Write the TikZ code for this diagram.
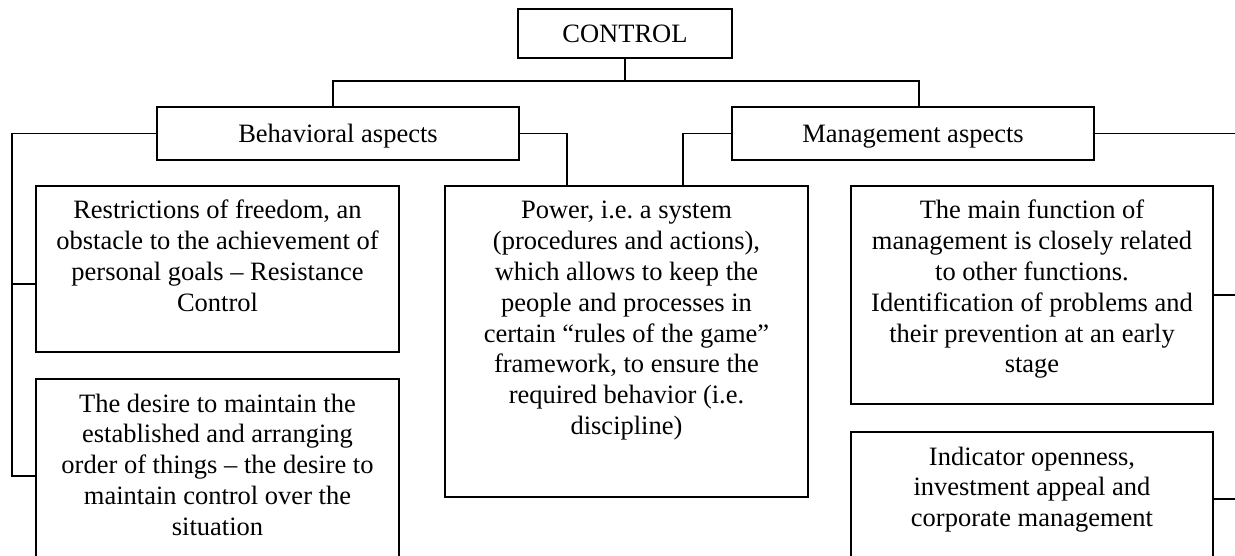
\documentclass[tikz,border=0pt]{standalone}
\usepackage{fontspec}
\setmainfont{Liberation Serif}
\usetikzlibrary{calc}
\frenchspacing
\newcommand{\boxtxt}[3]{\parbox[t][#2][t]{#1}{\fontsize{26.5pt}{30.8pt}\selectfont\frenchspacing\centering\rule{0pt}{33pt}#3}}
\begin{document}
\begin{tikzpicture}[x=1pt,y=-1pt,line width=1.3pt,
  bx/.style={draw,inner sep=0pt,outer sep=0pt},
  hd/.style={draw,inner sep=0pt,outer sep=0pt,text height=17.5pt,text depth=0pt,
    font=\fontsize{26.5pt}{30.8pt}\selectfont,minimum height=53pt,minimum width=362pt}]
\useasboundingbox (0,0) rectangle (1235,556);
\node[hd,minimum width=214pt,minimum height=49pt] (control) at (625,33.5) {CONTROL};
\node[hd] (beh) at (338,133.5) {Behavioral aspects};
\node[hd] (mgt) at (913,133.5) {Management aspects};
\node[bx] (b1) at (217.5,269) {\boxtxt{363pt}{166pt}{Restrictions of freedom, an\\obstacle to the achievement of\\personal goals – Resistance\\Control}};
\node[bx] (b2) at (217.5,476) {\boxtxt{363pt}{194pt}{The desire to maintain the\\established and arranging\\order of things – the desire to\\maintain control over the\\situation}};
\node[bx] (pw) at (626.5,341.5) {\boxtxt{363pt}{311pt}{Power, i.e. a system\\(procedures and actions),\\which allows to keep the\\people and processes in\\certain “rules of the game”\\framework, to ensure the\\required behavior (i.e.\\discipline)}};
\node[bx] (m1) at (1032,295) {\boxtxt{362pt}{218pt}{The main function of\\management is closely related\\to other functions.\\Identification of problems and\\their prevention at an early\\stage}};
\node[bx] (m2) at (1032,499) {\boxtxt{362pt}{134pt}{Indicator openness,\\investment appeal and\\corporate management}};
\coordinate (jL) at (333,81);
\coordinate (jR) at (919,81);
\coordinate (L) at (12,0);
\coordinate (t1) at (12,284);
\coordinate (R) at (1240,0);
\draw (control.south) |- (jL) -- (jL |- beh.north);
\draw (control.south) |- (jR) -- (jR |- mgt.north);
\draw (beh.west) -| (L |- b2.west) -- (b2.west);
\draw (t1) -- (t1 -| b1.west);
\draw (beh.east) -| ($(pw.north west)+(122,0)$);
\draw (mgt.west) -| ($(pw.north west)+(238,0)$);
\draw (mgt.east) -- (mgt.east -| R);
\draw (m1.east) -- (m1.east -| R);
\draw (m2.east) -- (m2.east -| R);
\end{tikzpicture}
\end{document}
